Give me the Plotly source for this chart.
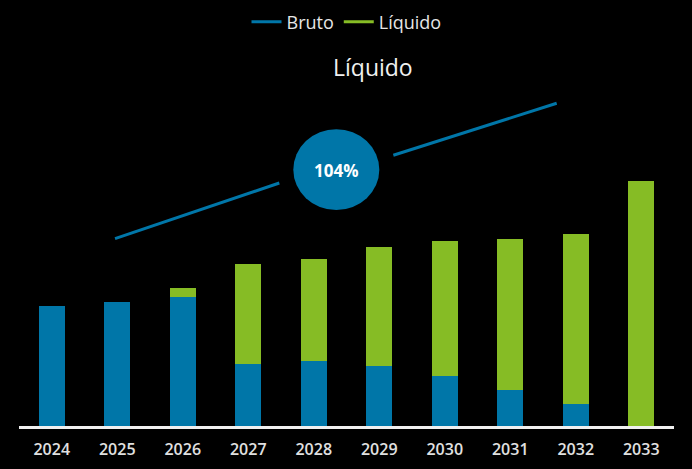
import plotly.graph_objects as go

years = ["2024", "2025", "2026", "2027", "2028", "2029", "2030", "2031", "2032", "2033"]
bruto = [120.3, 124.0, 129.0, 62.3, 64.7, 60.3, 50.0, 36.0, 22.3, 0.0]
liquido = [0.0, 0.0, 9.3, 99.7, 102.6, 118.7, 134.7, 151.3, 169.4, 245.3]
growth_label = "104%"
title_text = "Líquido"

BLUE = "#0076A8"
GREEN = "#86BC25"
FONT = "Open Sans"

fig = go.Figure()
fig.add_trace(go.Bar(x=years, y=bruto, name="Bruto", marker=dict(color=BLUE, line=dict(width=0)),
                     showlegend=False))
fig.add_trace(go.Bar(x=years, y=liquido, name="Líquido", marker=dict(color=GREEN, line=dict(width=0)),
                     showlegend=False))
# legend entries as lines
fig.add_trace(go.Scatter(x=[None], y=[None], mode="lines", name="Bruto",
                         line=dict(color=BLUE, width=3)))
fig.add_trace(go.Scatter(x=[None], y=[None], mode="lines", name="Líquido",
                         line=dict(color=GREEN, width=3)))

fig.update_layout(
    width=692, height=469,
    paper_bgcolor="black", plot_bgcolor="black",
    barmode="stack", bargap=0.6,
    margin=dict(l=19, r=18, t=90, b=43, autoexpand=False),
    font=dict(family=FONT, color="#e6e6e6", size=14),
    showlegend=True,
    legend=dict(orientation="h", x=0.5, xanchor="center", y=1.202, yanchor="middle",
                traceorder="normal",
                font=dict(size=18, color="#e6e6e6"), bgcolor="rgba(0,0,0,0)",
                itemwidth=30, tracegroupgap=0),
    xaxis=dict(type="category", showgrid=False, zeroline=False, showline=True,
               linecolor="#f0f0f0", linewidth=3, ticks="", automargin=False,
               tickfont=dict(size=16, color="#e0e0e0", weight=600),
               ticklabelstandoff=7, fixedrange=True),
    yaxis=dict(range=[0, 336], visible=False, showgrid=False, zeroline=False, fixedrange=True),
    shapes=[
        dict(type="line", xref="paper", yref="y", x0=0.1466, y0=187.3, x1=0.3974, y1=243.0,
             line=dict(color=BLUE, width=3)),
        dict(type="line", xref="paper", yref="y", x0=0.5715, y0=270.7, x1=0.8209, y1=322.7,
             line=dict(color=BLUE, width=3)),
        dict(type="circle", xref="paper", yref="y", x0=0.4188, y0=216.0, x1=0.5501, y1=296.7,
             fillcolor=BLUE, line=dict(color=BLUE, width=0)),
    ],
    annotations=[
        dict(text="<b>" + growth_label + "</b>", xref="paper", yref="y", x=0.4844, y=256.0,
             showarrow=False, font=dict(size=17, color="white", family=FONT),
             xanchor="center", yanchor="middle"),
        dict(text=title_text, xref="paper", yref="paper", x=0.540, y=1.068, showarrow=False,
             font=dict(size=23, color="#f0f0f0", family=FONT), xanchor="center", yanchor="middle"),
    ],
)

fig.write_html("out.html", config={"displayModeBar": False},
               post_script="document.body.style.margin='0';document.body.style.background='black';")
